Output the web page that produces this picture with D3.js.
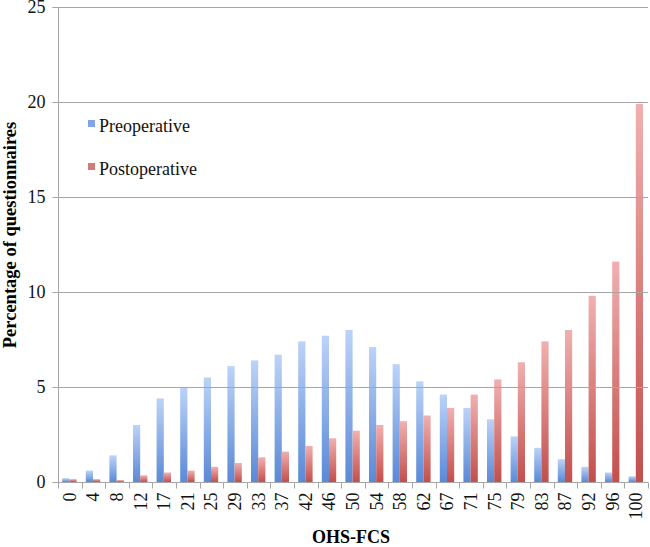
<!DOCTYPE html>
<html><head><meta charset="utf-8">
<script src="https://cdn.jsdelivr.net/npm/d3@7"></script>
<style>body{margin:0;background:#fff}svg{display:block}</style>
</head><body>
<script>
const categories = ["0","4","8","12","17","21","25","29","33","37","42","46","50","54","58","62","67","71","75","79","83","87","92","96","100"];
const preoperative = [0.2,0.6,1.4,3.0,4.4,5.0,5.5,6.1,6.4,6.7,7.4,7.7,8.0,7.1,6.2,5.3,4.6,3.9,3.3,2.4,1.8,1.2,0.8,0.5,0.3];
const postoperative = [0.15,0.15,0.1,0.35,0.5,0.6,0.8,1.0,1.3,1.6,1.9,2.3,2.7,3.0,3.2,3.5,3.9,4.6,5.4,6.3,7.4,8.0,9.8,11.6,19.9];
const yTicks = [0,5,10,15,20,25];
const seriesNames = ["Preoperative","Postoperative"];

const FONT='"Liberation Serif"';
const W=650,H=547;
const m={left:58,right:2,top:7,bottom:65};
const svg=d3.select("body").append("svg").attr("width",W).attr("height",H);
const defs=svg.append("defs");
const grads=[["gPre","#bcd3f8","#5a89d6"],["gPost","#f0b0b0","#c24f4c"]];
grads.forEach(([id,c1,c2])=>{
  const g=defs.append("linearGradient").attr("id",id).attr("x1",0).attr("y1",0).attr("x2",0).attr("y2",1);
  g.append("stop").attr("offset","0%").attr("stop-color",c1);
  g.append("stop").attr("offset","100%").attr("stop-color",c2);
});

const x=d3.scaleBand().domain(categories).range([m.left,W-m.right]).paddingInner(0).paddingOuter(0);
const y=d3.scaleLinear().domain([0,25]).range([H-m.bottom,m.top]);
const bw=7.2;

const data=categories.map((c,i)=>({c,pre:preoperative[i],post:postoperative[i]}));
const gBars=svg.append("g");
gBars.selectAll("rect.pre").data(data).join("rect").attr("class","pre")
  .attr("x",d=>x(d.c)+x.bandwidth()/2-bw-0.4).attr("width",bw)
  .attr("y",d=>y(d.pre)).attr("height",d=>y(0)-y(d.pre)).attr("fill","url(#gPre)");
gBars.selectAll("rect.post").data(data).join("rect").attr("class","post")
  .attr("x",d=>x(d.c)+x.bandwidth()/2-0.4).attr("width",bw)
  .attr("y",d=>y(d.post)).attr("height",d=>y(0)-y(d.post)).attr("fill","url(#gPost)");

// gridlines
svg.append("g").selectAll("line").data(yTicks.filter(t=>t>0)).join("line")
  .attr("x1",m.left).attr("x2",W-m.right).attr("y1",d=>Math.round(y(d))+0.5).attr("y2",d=>Math.round(y(d))+0.5)
  .attr("stroke","#a6a6a6").attr("stroke-width",1);

// y axis
const yAxis=svg.append("g").attr("transform",`translate(${m.left+0.5},0)`)
  .call(d3.axisLeft(y).tickValues(yTicks).tickSize(6).tickPadding(7).tickFormat(d3.format("d")));
yAxis.select(".domain").attr("stroke","#a6a6a6").attr("d",`M-6,${y(25)+0.5}H0V${y(0)+0.5}H-6`);
yAxis.selectAll(".tick line").attr("stroke","#a6a6a6");
yAxis.selectAll(".tick text").style("font-family",FONT).attr("font-size",18).attr("fill","#111");

// x axis
const xAxis=svg.append("g").attr("transform",`translate(0,${Math.round(y(0))+0.5})`);
xAxis.append("line").attr("x1",m.left).attr("x2",W-m.right).attr("stroke","#a6a6a6");
const bounds=categories.map(c=>x(c)).concat([x(categories[categories.length-1])+x.bandwidth()]);
xAxis.selectAll("line.tk").data(bounds).join("line").attr("class","tk")
  .attr("x1",d=>Math.round(d)+0.5).attr("x2",d=>Math.round(d)+0.5).attr("y1",0).attr("y2",6).attr("stroke","#a6a6a6");
xAxis.selectAll("text").data(categories).join("text")
  .attr("transform",d=>`translate(${x(d)+x.bandwidth()/2+6},10) rotate(-90)`)
  .attr("text-anchor","end").style("font-family",FONT).attr("font-size",18).attr("fill","#111").text(d=>d);

// axis titles
svg.append("text").attr("x",351).attr("y",543).attr("text-anchor","middle")
  .style("font-family",FONT).attr("font-weight","bold").attr("font-size",18).text("OHS-FCS");
svg.append("text").attr("transform",`translate(16,${235}) rotate(-90)`).attr("text-anchor","middle")
  .style("font-family",FONT).attr("font-weight","bold").attr("font-size",18.5).text("Percentage of questionnaires");

// legend
const leg=svg.append("g");
const legY=[126,169];
seriesNames.forEach((n,i)=>{
  leg.append("rect").attr("x",88).attr("y",legY[i]-6).attr("width",7).attr("height",7).attr("fill",i?"#d47a78":"#7fa5e6");
  leg.append("text").attr("x",99).attr("y",legY[i]+6).style("font-family",FONT).attr("font-size",18).attr("fill","#111").text(n);
});
</script>
</body></html>
